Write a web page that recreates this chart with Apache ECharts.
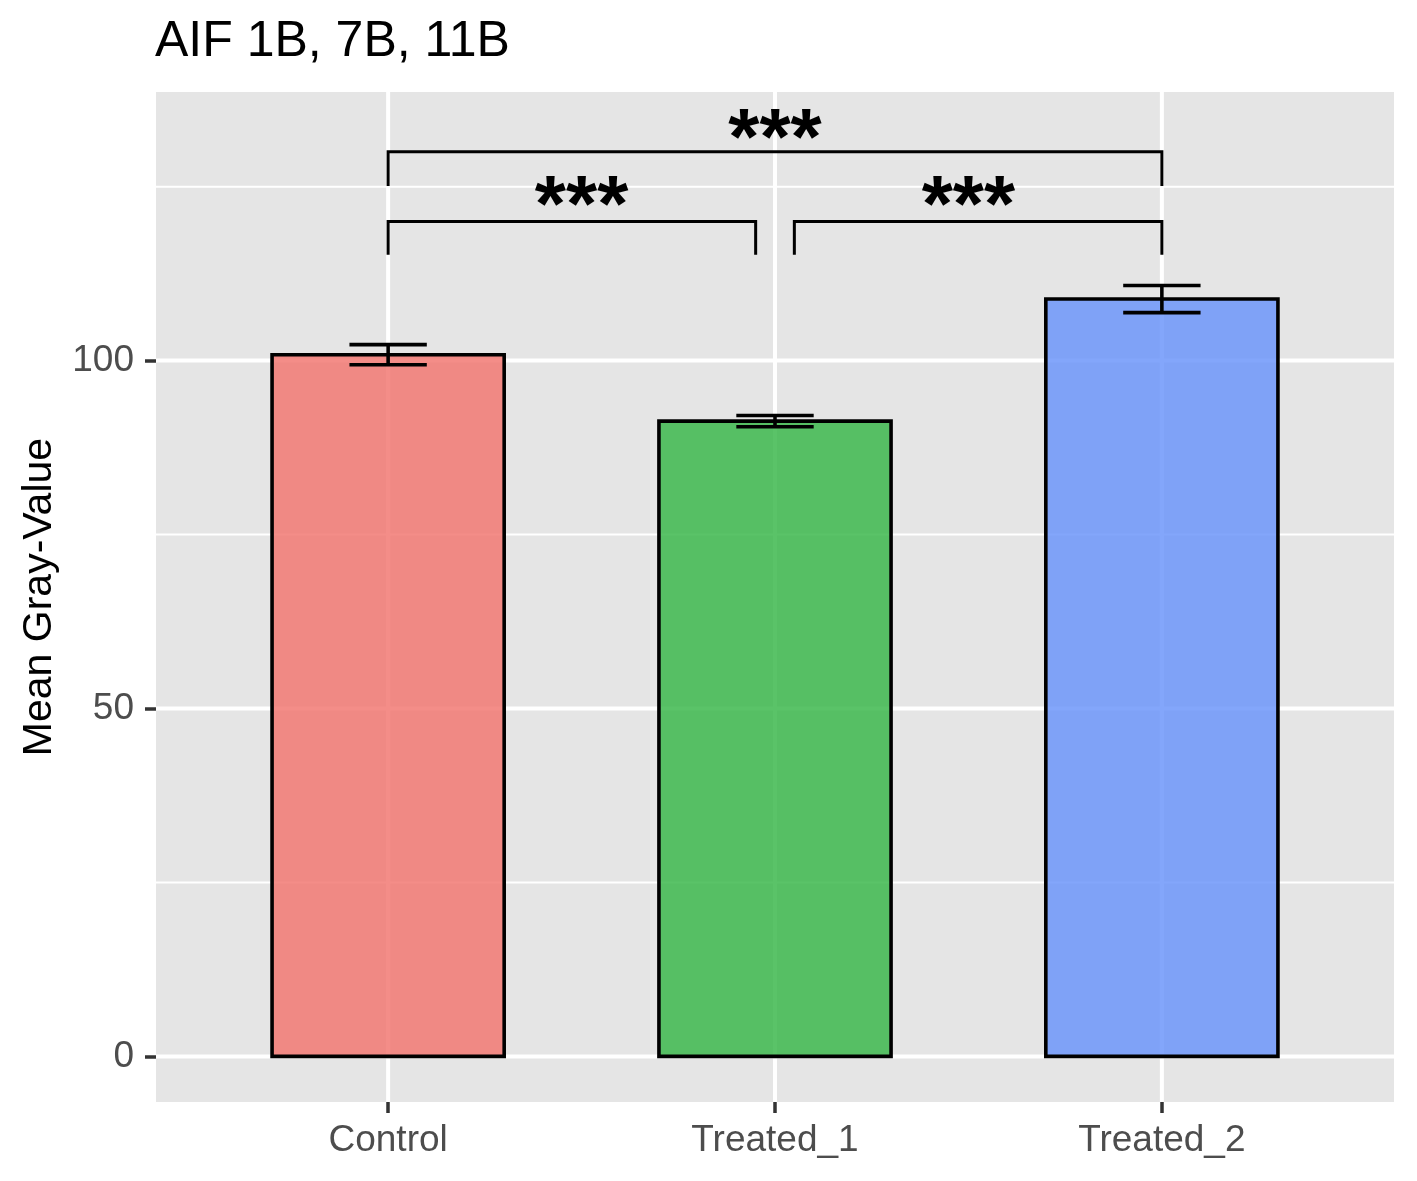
<!DOCTYPE html>
<html>
  <head>
    <meta charset="UTF-8">
    <title>AIF 1B, 7B, 11B</title>
    <script src="https://cdn.jsdelivr.net/npm/echarts@6/dist/echarts.min.js"></script>
    <style>
      html, body { margin: 0; padding: 0; background: #fff; }
    </style>
  </head>
  <body>
    <div id="myChart" style="width: 1417px;height:1181px;"></div>
    <script type="text/javascript">
    // data
    var categories = ['Control', 'Treated_1', 'Treated_2'];
    var means = [100.85, 91.3, 108.85];
    var errLow = [99.4, 90.5, 106.9];
    var errHigh = [102.3, 92.1, 110.8];
    var barColors = ['rgba(242,121,115,0.85)', 'rgba(61,185,77,0.85)', 'rgba(109,151,250,0.85)'];

    // significance brackets: [xmin, xmax, y, tip end]
    var brackets = [[1, 1.95, 120, 115.2], [2.05, 3, 120, 115.2], [1, 3, 130, 125.1]];
    var bracketLabels = ['***', '***', '***'];
    var labelPos = [[1.5, 121.8], [2.5, 121.8], [2, 131.4]];

    var yTicks = [0, 50, 100];
    var yMinor = [25, 75, 125];
    var xTicks = [1, 2, 3];

    var FONT = '"Liberation Sans", Arial, Helvetica, sans-serif';
    var myChart = echarts.init(document.getElementById('myChart'));

    function hLine(params, api) {
        var v = api.value(0);
        var w = api.value(1);
        var cs = params.coordSys;
        var p = api.coord([0.4, v]);
        return {
            type: 'line',
            shape: { x1: cs.x, y1: p[1], x2: cs.x + cs.width, y2: p[1] },
            style: { stroke: '#ffffff', lineWidth: w }
        };
    }
    function vLine(params, api) {
        var cs = params.coordSys;
        var p = api.coord([api.value(0), 0]);
        return {
            type: 'line',
            shape: { x1: p[0], y1: cs.y, x2: p[0], y2: cs.y + cs.height },
            style: { stroke: '#ffffff', lineWidth: 4 }
        };
    }

    var gridData = yMinor.map(function (v) { return [v, 2]; })
        .concat(yTicks.map(function (v) { return [v, 4]; }));

    var option = {
        backgroundColor: '#ffffff',
        animation: false,
        title: {
            text: 'AIF 1B, 7B, 11B',
            left: 155,
            top: 17,
            padding: 0,
            textStyle: { fontFamily: FONT, fontSize: 50, fontWeight: 'normal', color: '#000' }
        },
        grid: {
            left: 156, top: 92, width: 1238, height: 1010,
            outerBoundsMode: 'none',
            containLabel: false,
            show: true, backgroundColor: '#E5E5E5', borderWidth: 0
        },
        xAxis: {
            type: 'value',
            min: 0.4,
            max: 3.6,
            axisLine: { show: false, onZero: false },
            splitLine: { show: false },
            axisTick: { show: true, length: 11, customValues: xTicks, lineStyle: { color: '#333333', width: 3.5 } },
            axisLabel: {
                customValues: xTicks,
                margin: 20,
                fontFamily: FONT,
                fontSize: 37,
                color: '#4D4D4D',
                formatter: function (v) { return categories[Math.round(v) - 1]; }
            }
        },
        yAxis: {
            type: 'value',
            min: -6.55,
            max: 138.6,
            name: 'Mean Gray-Value',
            nameLocation: 'middle',
            nameRotate: 90,
            nameGap: 96,
            nameTextStyle: { fontFamily: FONT, fontSize: 41, color: '#000' },
            axisLine: { show: false, onZero: false },
            splitLine: { show: false },
            axisTick: { show: true, length: 11, customValues: yTicks, lineStyle: { color: '#333333', width: 3.5 } },
            axisLabel: {
                customValues: yTicks,
                margin: 22,
                fontFamily: FONT,
                fontSize: 37,
                color: '#4D4D4D'
            }
        },
        series: [{
            type: 'custom',
            name: 'hgrid',
            silent: true,
            z: 1,
            renderItem: hLine,
            data: gridData
        }, {
            type: 'custom',
            name: 'vgrid',
            silent: true,
            z: 1,
            renderItem: vLine,
            data: xTicks.map(function (x) { return [x]; })
        }, {
            type: 'custom',
            name: 'bars',
            z: 2,
            renderItem: function (params, api) {
                var i = params.dataIndex;
                var x = api.value(0);
                var p0 = api.coord([x - 0.3, api.value(1)]);
                var p1 = api.coord([x + 0.3, 0]);
                return {
                    type: 'rect',
                    shape: { x: p0[0], y: p0[1], width: p1[0] - p0[0], height: p1[1] - p0[1] },
                    style: { fill: barColors[i], stroke: '#000', lineWidth: 3.6 }
                };
            },
            data: means.map(function (m, i) { return [i + 1, m]; })
        }, {
            type: 'custom',
            name: 'errorbars',
            z: 3,
            renderItem: function (params, api) {
                var x = api.value(0);
                var lo = api.coord([x, api.value(1)]);
                var hi = api.coord([x, api.value(2)]);
                var l = api.coord([x - 0.1, 0])[0];
                var r = api.coord([x + 0.1, 0])[0];
                var st = { stroke: '#000', lineWidth: 3.6 };
                return {
                    type: 'group',
                    children: [
                        { type: 'line', shape: { x1: lo[0], y1: lo[1], x2: hi[0], y2: hi[1] }, style: st },
                        { type: 'line', shape: { x1: l, y1: lo[1], x2: r, y2: lo[1] }, style: st },
                        { type: 'line', shape: { x1: l, y1: hi[1], x2: r, y2: hi[1] }, style: st }
                    ]
                };
            },
            data: means.map(function (m, i) { return [i + 1, errLow[i], errHigh[i]]; })
        }, {
            type: 'custom',
            name: 'brackets',
            z: 3,
            renderItem: function (params, api) {
                var a = api.coord([api.value(0), api.value(3)]);
                var b = api.coord([api.value(0), api.value(2)]);
                var c = api.coord([api.value(1), api.value(2)]);
                var d = api.coord([api.value(1), api.value(3)]);
                return {
                    type: 'polyline',
                    shape: { points: [a, b, c, d] },
                    style: { stroke: '#000', lineWidth: 3, fill: null }
                };
            },
            data: brackets
        }, {
            type: 'custom',
            name: 'stars',
            z: 4,
            renderItem: function (params, api) {
                var p = api.coord([api.value(0), api.value(1)]);
                return {
                    type: 'text',
                    style: {
                        text: bracketLabels[params.dataIndex],
                        x: p[0], y: p[1],
                        textAlign: 'center',
                        textVerticalAlign: 'middle',
                        font: 'bold 80px ' + FONT,
                        fill: '#000'
                    }
                };
            },
            data: labelPos
        }]
    };
    myChart.setOption(option);
    </script>
  </body>
</html>
